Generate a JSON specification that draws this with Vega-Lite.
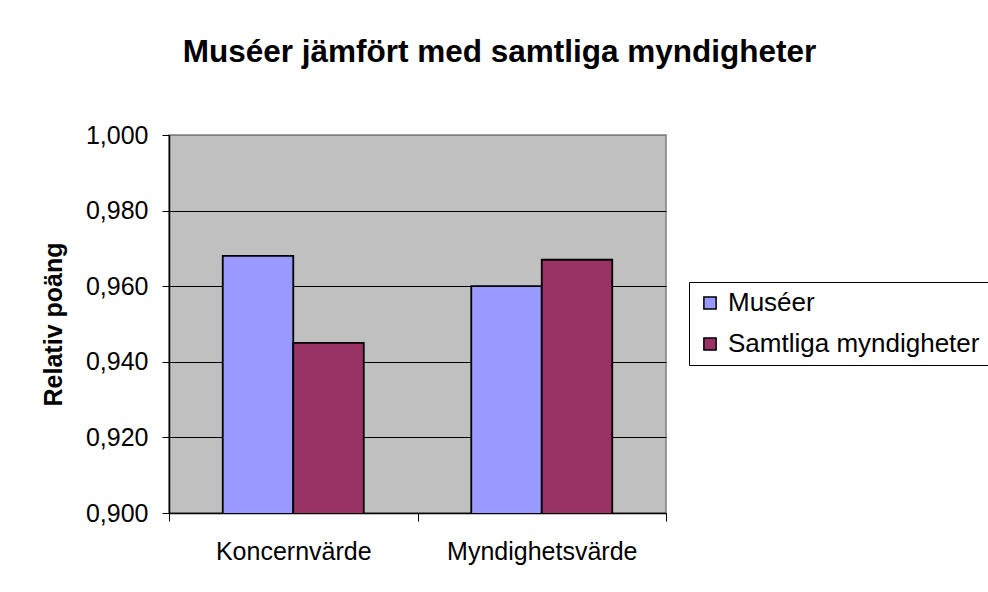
{
  "$schema": "https://vega.github.io/schema/vega-lite/v6.json",
  "autosize": {"type": "none"},
  "width": 497,
  "height": 378,
  "padding": {"left": 169, "top": 135, "right": 322, "bottom": 79},
  "background": "white",
  "title": {
    "text": "Muséer jämfört med samtliga myndigheter",
    "font": "Liberation Sans",
    "fontSize": 31.5,
    "fontWeight": "bold",
    "color": "black",
    "anchor": "middle",
    "frame": "group",
    "dx": 82,
    "baseline": "alphabetic",
    "offset": 30
  },
  "data": {
    "values": [
      {"kategori": "Koncernvärde", "serie": "Muséer", "varde": 0.968},
      {"kategori": "Koncernvärde", "serie": "Samtliga myndigheter", "varde": 0.945},
      {"kategori": "Myndighetsvärde", "serie": "Muséer", "varde": 0.960},
      {"kategori": "Myndighetsvärde", "serie": "Samtliga myndigheter", "varde": 0.967}
    ]
  },
  "mark": {"type": "bar", "stroke": "black", "strokeWidth": 1.8, "clip": true},
  "encoding": {
    "x": {
      "field": "kategori",
      "type": "nominal",
      "sort": null,
      "scale": {"paddingInner": 0, "paddingOuter": 0},
      "axis": {
        "title": null,
        "labelAngle": 0,
        "labelFont": "Liberation Sans",
        "labelFontSize": 25,
        "labelColor": "black",
        "labelLimit": 400,
        "tickBand": "extent",
        "tickSize": 8,
        "tickColor": "black",
        "domainColor": "black",
        "labelPadding": 18
      }
    },
    "xOffset": {"field": "serie", "type": "nominal", "scale": {"paddingInner": 0, "paddingOuter": 0.7624}},
    "y": {
      "field": "varde",
      "type": "quantitative",
      "scale": {"domain": [0.9, 1.0], "zero": false, "nice": false},
      "axis": {
        "title": "Relativ poäng",
        "titleFont": "Liberation Sans",
        "titleFontSize": 25,
        "titleFontWeight": "bold",
        "titleColor": "black",
        "titlePadding": 19,
        "values": [0.9, 0.92, 0.94, 0.96, 0.98, 1.0],
        "format": ".3f",
        "labelFont": "Liberation Sans",
        "labelFontSize": 25,
        "labelColor": "black",
        "labelPadding": 14,
        "tickSize": 7,
        "tickColor": "black",
        "domainColor": "black",
        "grid": true,
        "gridColor": {"condition": {"test": "datum.value >= 0.999 || datum.value <= 0.901", "value": "#808080"}, "value": "black"},
        "gridOpacity": 1,
        "gridWidth": 1
      }
    },
    "color": {
      "field": "serie",
      "type": "nominal",
      "scale": {"domain": ["Muséer", "Samtliga myndigheter"], "range": ["#9999FF", "#993366"]},
      "legend": {
        "title": null,
        "orient": "none",
        "legendX": 520,
        "legendY": 147,
        "direction": "vertical",
        "symbolType": "square",
        "symbolSize": 150,
        "symbolStrokeColor": "black",
        "symbolStrokeWidth": 1.5,
        "symbolOpacity": 1,
        "labelFont": "Liberation Sans",
        "labelFontSize": 26,
        "labelColor": "black",
        "labelOffset": 5,
        "labelLimit": 400,
        "rowPadding": 15,
        "padding": 8,
        "strokeColor": "black",
        "fillColor": "white",
        "cornerRadius": 0
      }
    }
  },
  "config": {
    "locale": {"number": {"decimal": ",", "thousands": " ", "grouping": [3], "currency": ["", ""]}},
    "view": {"fill": "#C0C0C0", "stroke": "#808080", "strokeWidth": 1.5},
    "axis": {"domainWidth": 1.5, "tickWidth": 1}
  }
}
